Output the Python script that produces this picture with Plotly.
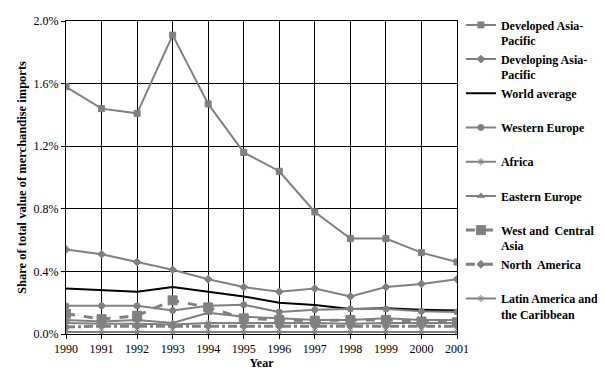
import plotly.graph_objects as go

years = list(range(1990, 2002))

developed_ap = [1.58, 1.44, 1.41, 1.91, 1.47, 1.16, 1.04, 0.78, 0.61, 0.61, 0.52, 0.46]
developing_ap = [0.54, 0.51, 0.46, 0.41, 0.35, 0.30, 0.27, 0.29, 0.24, 0.30, 0.32, 0.35]
world_avg = [0.29, 0.28, 0.27, 0.30, 0.27, 0.24, 0.20, 0.185, 0.16, 0.165, 0.155, 0.15]
western_europe = [0.18, 0.18, 0.18, 0.15, 0.18, 0.187, 0.14, 0.155, 0.16, 0.16, 0.145, 0.14]
africa = [0.012, 0.012, 0.012, 0.012, 0.012, 0.012, 0.012, 0.012, 0.012, 0.012, 0.012, 0.012]
eastern_europe = [0.09, 0.08, 0.09, 0.07, 0.135, 0.11, 0.10, 0.09, 0.09, 0.10, 0.09, 0.09]
west_central_asia = [0.13, 0.095, 0.117, 0.215, 0.17, 0.10, 0.09, 0.085, 0.09, 0.09, 0.08, 0.075]
north_america = [0.045, 0.05, 0.05, 0.05, 0.05, 0.05, 0.05, 0.05, 0.05, 0.05, 0.05, 0.05]
latin_america = [0.07, 0.065, 0.065, 0.06, 0.07, 0.07, 0.07, 0.07, 0.065, 0.07, 0.07, 0.07]

series = [
    ("Developed Asia-<br>Pacific", developed_ap, "#808080", "square", 6, "solid", 2),
    ("Developing Asia-<br>Pacific", developing_ap, "#808080", "diamond", 6, "solid", 2),
    ("World average<br> ", world_avg, "#000000", None, 0, "solid", 2),
    ("Western Europe<br> ", western_europe, "#808080", "circle", 6, "solid", 2),
    ("Africa<br> ", africa, "#808080", "asterisk-open", 6, "solid", 2),
    ("Eastern Europe<br> ", eastern_europe, "#808080", "triangle-up", 6, "solid", 2),
    ("West and  Central<br>Asia", west_central_asia, "#808080", "square", 9, "dash", 3),
    ("North  America<br> ", north_america, "#808080", "diamond", 6, "dashdot", 3),
    ("Latin America and<br>the Caribbean", latin_america, "#808080", "asterisk-open", 6, "solid", 2),
]

SERIF = "Liberation Serif"

fig = go.Figure()
for i, (name, vals, color, sym, size, dash, w) in enumerate(series):
    mode = "lines+markers" if sym else "lines"
    label = "<br>".join("<b>%s</b>" % p if p.strip() else p for p in name.split("<br>"))
    fig.add_trace(go.Scatter(
        x=years, y=[v / 100 for v in vals], name=label, mode=mode,
        legendgroup=str(i),
        line=dict(color=color, width=w, dash=dash),
        marker=dict(symbol=sym or "circle", size=size, color=color,
                    line=dict(color=color, width=1)),
    ))

fig.update_layout(
    width=605, height=371,
    margin=dict(l=58, r=156, t=13, b=45, autoexpand=False),
    paper_bgcolor="white", plot_bgcolor="white",
    font=dict(family=SERIF, size=12, color="black"),
    showlegend=True,
    legend=dict(x=1.01, y=0.993, yref="container", xanchor="left", yanchor="top",
                maxheight=1,
                font=dict(family=SERIF, size=12, color="black"),
                valign="top", tracegroupgap=0, itemwidth=30,
                bgcolor="rgba(0,0,0,0)"),
    xaxis=dict(range=[1990, 2001], tickmode="array", tickvals=years,
               ticktext=[str(y) for y in years],
               showgrid=True, gridcolor="black", gridwidth=1,
               showline=True, linecolor="black", linewidth=1, mirror=True,
               ticks="outside", ticklen=4, tickcolor="black",
               tickfont=dict(family=SERIF, size=12),
               title=dict(text="<b>Year</b>", font=dict(family=SERIF, size=12), standoff=2),
               zeroline=False),
    yaxis=dict(range=[0, 0.02], tickvals=[0, 0.004, 0.008, 0.012, 0.016, 0.02],
               ticktext=["0.0%", "0.4%", "0.8%", "1.2%", "1.6%", "2.0%"],
               showgrid=True, gridcolor="black", gridwidth=1,
               showline=True, linecolor="black", linewidth=1, mirror=True,
               ticks="outside", ticklen=4, tickcolor="black",
               tickfont=dict(family=SERIF, size=12),
               title=dict(text="<b>Share of total value of merchandise imports</b>",
                          font=dict(family=SERIF, size=12.5), standoff=4),
               zeroline=False),
)

fig.write_html("out.html")
